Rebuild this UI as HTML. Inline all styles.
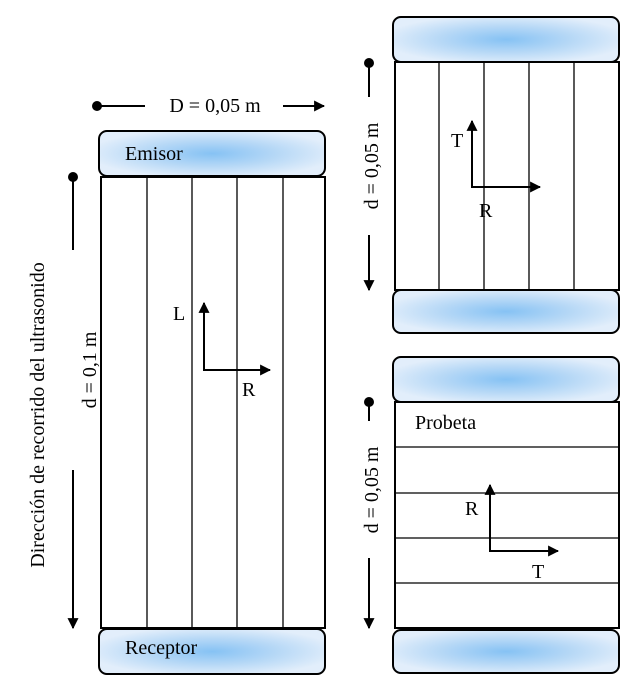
<!DOCTYPE html>
<html><head><style>body{margin:0;background:#fff}svg{display:block}</style></head><body>
<svg width="632" height="700" viewBox="0 0 632 700" xmlns="http://www.w3.org/2000/svg" font-family="Liberation Serif, serif" font-size="20">
<defs>
<radialGradient id="g" cx="50%" cy="50%" r="55%" gradientUnits="objectBoundingBox">
<stop offset="0" stop-color="#86c2f4"/><stop offset="0.5" stop-color="#b4d7f6"/><stop offset="1" stop-color="#e2eefb"/></radialGradient>
<marker id="a" viewBox="0 0 10 10" refX="9" refY="5" markerWidth="11" markerHeight="11" markerUnits="userSpaceOnUse" orient="auto"><path d="M0,0 L10,5 L0,10z" fill="#000"/></marker>
</defs>
<g stroke="#000" stroke-width="2" fill="url(#g)">
<rect x="99" y="131" width="226" height="45" rx="8"/>
<rect x="99" y="629" width="226" height="45" rx="8"/>
<rect x="393" y="17" width="226" height="45" rx="8"/>
<rect x="393" y="290" width="226" height="43" rx="8"/>
<rect x="393" y="357" width="226" height="45" rx="8"/>
<rect x="393" y="630" width="226" height="43" rx="8"/>
</g>
<g stroke="#000" stroke-width="2" fill="none">
<rect x="101" y="177" width="224" height="451"/>
<rect x="395" y="62" width="224" height="228"/>
<rect x="395" y="402" width="224" height="226"/>
</g>
<g stroke="#000" stroke-width="1.3">
<line x1="147" y1="177" x2="147" y2="628"/><line x1="192" y1="177" x2="192" y2="628"/>
<line x1="237" y1="177" x2="237" y2="628"/><line x1="283" y1="177" x2="283" y2="628"/>
<line x1="439" y1="62" x2="439" y2="290"/><line x1="484" y1="62" x2="484" y2="290"/>
<line x1="529" y1="62" x2="529" y2="290"/><line x1="574" y1="62" x2="574" y2="290"/>
<line x1="395" y1="447" x2="619" y2="447"/><line x1="395" y1="493" x2="619" y2="493"/>
<line x1="395" y1="538" x2="619" y2="538"/><line x1="395" y1="583" x2="619" y2="583"/>
</g>
<g stroke="#000" stroke-width="2" fill="none">
<line x1="97" y1="106" x2="145" y2="106"/>
<line x1="283" y1="106" x2="324" y2="106" marker-end="url(#a)"/>
<line x1="73" y1="177" x2="73" y2="250"/>
<line x1="73" y1="470" x2="73" y2="628" marker-end="url(#a)"/>
<line x1="369" y1="63" x2="369" y2="97"/>
<line x1="369" y1="235" x2="369" y2="290" marker-end="url(#a)"/>
<line x1="369" y1="402" x2="369" y2="421"/>
<line x1="369" y1="558" x2="369" y2="628" marker-end="url(#a)"/>
<polyline points="204,303 204,370 270,370" marker-end="url(#a)"/>
<line x1="204" y1="370" x2="204" y2="303" marker-end="url(#a)"/>
<polyline points="472,121 472,187 540,187" marker-end="url(#a)"/>
<line x1="472" y1="187" x2="472" y2="121" marker-end="url(#a)"/>
<polyline points="490,485 490,551 558,551" marker-end="url(#a)"/>
<line x1="490" y1="551" x2="490" y2="485" marker-end="url(#a)"/>
</g>
<g fill="#000">
<circle cx="97" cy="106" r="5"/><circle cx="73" cy="177" r="5"/>
<circle cx="369" cy="63" r="5"/><circle cx="369" cy="402" r="5"/>
</g>
<g fill="#000">
<text x="215" y="112" text-anchor="middle">D = 0,05 m</text>
<text x="125" y="160">Emisor</text>
<text x="125" y="654">Receptor</text>
<text x="415" y="429">Probeta</text>
<text x="173" y="320">L</text>
<text x="242" y="396">R</text>
<text x="451" y="147">T</text>
<text x="479" y="217">R</text>
<text x="465" y="515">R</text>
<text x="532" y="578">T</text>
<text transform="translate(96,370) rotate(-90)" text-anchor="middle">d = 0,1 m</text>
<text transform="translate(44,415) rotate(-90)" text-anchor="middle">Dirección de recorrido del ultrasonido</text>
<text transform="translate(378,166) rotate(-90)" text-anchor="middle">d = 0,05 m</text>
<text transform="translate(378,490) rotate(-90)" text-anchor="middle">d = 0,05 m</text>
</g>
</svg>
</body></html>
